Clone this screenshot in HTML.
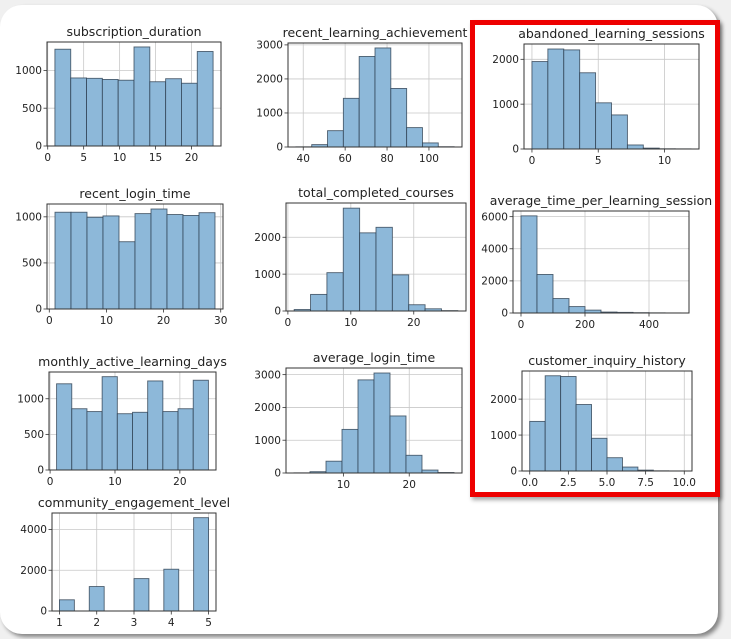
<!DOCTYPE html>
<html><head><meta charset="utf-8">
<style>
html,body{margin:0;padding:0;background:#f0f0f0;width:731px;height:639px;overflow:hidden;}
#card{position:absolute;left:0;top:5px;width:718px;height:629px;background:#fff;border-radius:22px;box-shadow:3px 3px 4px rgba(0,0,0,0.45);}
#red{position:absolute;left:470px;top:20px;width:240px;height:467px;border:5px solid #ee0000;box-shadow:2px 3px 4px rgba(0,0,0,0.35);}
svg{position:absolute;left:0;top:0;}
text{font-family:"DejaVu Sans","Liberation Sans",sans-serif;fill:#222;}
</style></head><body>
<div id="card"></div>
<svg id="chart" width="731" height="639"></svg>
<div id="red"></div>
<script>
const subscriptionCounts = [1280, 900, 895, 880, 870, 1310, 850, 890, 830, 1250];
const achievementCounts = [5, 70, 480, 1430, 2660, 2910, 1720, 570, 120, 8];
const abandonedCounts = [1950, 2230, 2210, 1700, 1030, 760, 90, 20, 5, 3];
const loginTimeCounts = [1050, 1050, 995, 1010, 730, 1035, 1085, 1025, 1015, 1045];
const completedCounts = [40, 450, 1040, 2790, 2120, 2270, 980, 170, 60, 10];
const sessionTimeCounts = [6050, 2400, 900, 400, 180, 60, 40, 20, 10, 5];
const activeDaysCounts = [1210, 860, 820, 1310, 790, 810, 1250, 820, 860, 1260];
const avgLoginCounts = [5, 40, 360, 1330, 2840, 3050, 1740, 540, 90, 15];
const inquiryCounts = [1380, 2650, 2630, 1850, 910, 370, 110, 25, 5, 2];
const engagementCounts = [550, 0, 1200, 0, 0, 1590, 0, 2050, 0, 4580];

const panelTitles = ["subscription_duration","recent_learning_achievement","abandoned_learning_sessions","recent_login_time","total_completed_courses","average_time_per_learning_session","monthly_active_learning_days","average_login_time","customer_inquiry_history","community_engagement_level"];
const dataRanges = [[1,23],[36.5,112],[0,12],[1,29],[1,27],[0,500],[1,24.4],[2.5,26.8],[0,10],[1,5]];
const xTickValues = [[0,5,10,15,20],[40,60,80,100],[0,5,10],[0,10,20,30],[0,10,20],[0,200,400],[0,10,20],[10,20],[0,2.5,5,7.5,10],[1,2,3,4,5]];
const xTickLabels = [["0","5","10","15","20"],["40","60","80","100"],["0","5","10"],["0","10","20","30"],["0","10","20"],["0","200","400"],["0","10","20"],["10","20"],["0.0","2.5","5.0","7.5","10.0"],["1","2","3","4","5"]];
const yTickValues = [[0,500,1000],[0,1000,2000,3000],[0,1000,2000],[0,500,1000],[0,1000,2000],[0,2000,4000,6000],[0,500,1000],[0,1000,2000,3000],[0,1000,2000],[0,2000,4000]];
const allCounts = [subscriptionCounts,achievementCounts,abandonedCounts,loginTimeCounts,completedCounts,sessionTimeCounts,activeDaysCounts,avgLoginCounts,inquiryCounts,engagementCounts];

const boxes = [[47,42,221,146],[288,43,462,147],[524,44,699,149],[47,204,223,309],[286,203,466,311],[513,211,689,313],[49,372,216,470],[286,368,462,473],[522,371,692,471],[52,513,216,611]];

const svg = document.getElementById('chart');
const NS = 'http://www.w3.org/2000/svg';
function mk(tag, attrs, parent){const e=document.createElementNS(NS,tag);for(const k in attrs)e.setAttribute(k,attrs[k]);(parent||svg).appendChild(e);return e;}

for(let p=0;p<10;p++){
  const [x0,y0,x1,y1]=boxes[p];
  const counts=allCounts[p];
  const [dmin,dmax]=dataRanges[p];
  const span=dmax-dmin, m=span*0.05;
  const xlo=dmin-m, xhi=dmax+m;
  const ymax=Math.max(...counts)*1.05;
  const sx=v=>x0+(v-xlo)/(xhi-xlo)*(x1-x0);
  const sy=v=>y1-v/ymax*(y1-y0);
  const g=mk('g',{});
  
  
  xTickValues[p].forEach(v=>{mk('line',{x1:sx(v),x2:sx(v),y1:y0,y2:y1,stroke:'#c8c8c8','stroke-width':0.8},g);});
  yTickValues[p].forEach(v=>{mk('line',{x1:x0,x2:x1,y1:sy(v),y2:sy(v),stroke:'#c8c8c8','stroke-width':0.8},g);});
  const w=span/counts.length;
  counts.forEach((c,i)=>{
    if(c<=0)return;
    const bx=sx(dmin+i*w), bx2=sx(dmin+(i+1)*w);
    const r=mk('rect',{x:bx,y:sy(c),width:bx2-bx,height:y1-sy(c),fill:'#8db8d9',stroke:'#2d3f50','stroke-width':0.9,'stroke-opacity':0.8},g);
    
    
  });
  mk('rect',{x:x0,y:y0,width:x1-x0,height:y1-y0,fill:'none',stroke:'#333','stroke-width':1},g);
  xTickValues[p].forEach((v,i)=>{
    mk('line',{x1:sx(v),x2:sx(v),y1:y1,y2:y1+3.5,stroke:'#333','stroke-width':0.8},g);
    const t=mk('text',{x:sx(v),y:y1+15,'font-size':10.5,'text-anchor':'middle'},g);
    t.textContent=xTickLabels[p][i];
    
    
  });
  yTickValues[p].forEach(v=>{
    mk('line',{x1:x0-3.5,x2:x0,y1:sy(v),y2:sy(v),stroke:'#333','stroke-width':0.8},g);
    const t=mk('text',{x:x0-5,y:sy(v)+3.7,'font-size':10.5,'text-anchor':'end'},g);
    t.textContent=String(v);
    
    
  });
  const tt=mk('text',{x:(x0+x1)/2,y:y0-6,'font-size':12.5,'text-anchor':'middle'},g);
  tt.textContent=panelTitles[p];
  
  
}
</script>
</body></html>
